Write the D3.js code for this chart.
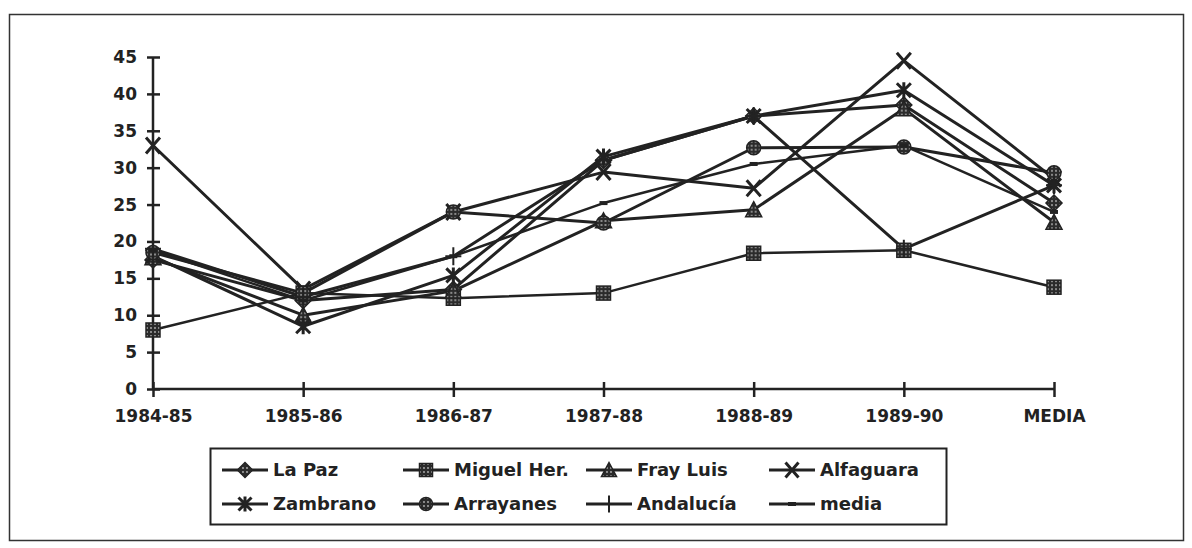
<!DOCTYPE html>
<html>
<head>
<meta charset="utf-8">
<script src="https://cdn.jsdelivr.net/npm/d3@7"></script>
<style>
  body { margin: 0; background: #fff; }
  text { font-family: 'DejaVu Sans', Arial, sans-serif; font-weight: bold; fill: #222; }
</style>
</head>
<body>
<div id="chart"></div>
<script>
// Data
const categories = ["1984-85", "1985-86", "1986-87", "1987-88", "1988-89", "1989-90", "MEDIA"]
const yTicks = [0, 5, 10, 15, 20, 25, 30, 35, 40, 45]

const laPaz      = [17.5, 12.0, 13.5, 31.0, 37.0, 38.5, 25.2]
const miguelHer  = [8.0, 13.0, 12.3, 13.0, 18.4, 18.8, 13.8]
const frayLuis   = [17.8, 10.0, 13.3, 22.8, 24.3, 38.0, 22.6]
const alfaguara  = [33.0, 13.5, 24.0, 29.4, 27.2, 44.5, 28.5]
const zambrano   = [18.0, 8.5, 15.4, 31.5, 37.0, 40.5, 27.6]
const arrayanes  = [18.5, 13.0, 24.0, 22.5, 32.7, 32.8, 29.3]
const andalucia  = [19.0, 12.5, 18.0, 31.0, 37.0, 19.0, 27.6]
const media      = [18.8, 12.0, 18.0, 25.2, 30.5, 33.0, 24.0]

const seriesNames = ["La Paz", "Miguel Her.", "Fray Luis", "Alfaguara", "Zambrano", "Arrayanes", "Andalucía", "media"]
const seriesValues = [laPaz, miguelHer, frayLuis, alfaguara, zambrano, arrayanes, andalucia, media]
const seriesMarkers = ["diamond", "square", "triangle", "x", "asterisk", "circle", "plus", "dash"]

// Constants
const width = 1192
const height = 548
const ink = '#222'
const fontFamily = "'DejaVu Sans', Arial, sans-serif"

const svg = d3.select("#chart")
    .append("svg")
    .attr("width", width)
    .attr("height", height)

// halftone fill used by the solid markers
const defs = svg.append("defs")
const pat = defs.append("pattern")
    .attr("id", "dots")
    .attr("width", 4)
    .attr("height", 4)
    .attr("patternUnits", "userSpaceOnUse")
pat.append("rect").attr("width", 4).attr("height", 4).attr("fill", "#2b2b2b")
pat.append("circle").attr("cx", 2).attr("cy", 2).attr("r", 0.9).attr("fill", "#b5b5b5")

// Outer frame
svg.append("rect")
    .attr("x", 9.5)
    .attr("y", 14.5)
    .attr("width", 1174)
    .attr("height", 526)
    .attr("fill", "none")
    .attr("stroke", "#333")
    .attr("stroke-width", 1.5)

// Scales
const x = d3.scalePoint()
    .domain(categories)
    .range([153, 1054])

const y = d3.scaleLinear()
    .domain([0, 45])
    .range([389, 57])

// Axes
const yAxisGroup = svg.append("g")
    .attr("transform", `translate(${x(categories[0])}, 0)`)
    .call(d3.axisLeft(y).tickValues(yTicks).tickSize(6).tickPadding(10))
yAxisGroup.selectAll("line").attr("x2", 7).attr("x1", -6)

const xAxisGroup = svg.append("g")
    .attr("transform", `translate(0, ${y(0)})`)
    .call(d3.axisBottom(x).tickSize(8).tickPadding(13))
xAxisGroup.selectAll("line").attr("y1", -7)

svg.selectAll(".domain").attr("stroke", ink).attr("stroke-width", 2.5)
svg.selectAll(".tick line").attr("stroke", ink).attr("stroke-width", 2.5)
svg.selectAll(".tick text")
    .style("font-family", fontFamily)
    .style("font-weight", "bold")
    .style("font-size", "17px")
    .attr("fill", ink)
xAxisGroup.selectAll(".domain").attr("d", `M${x(categories[0])},0H${x(categories[categories.length - 1])}`)
yAxisGroup.selectAll(".domain").attr("d", `M0,${y(0)}V${y(45)}`)

// Marker drawing
function drawMarker(g, type, s) {
    const h = s / 2
    if (type === "diamond") {
        g.append("path").attr("d", `M0,${-h - 1}L${h + 1},0L0,${h + 1}L${-h - 1},0Z`)
            .attr("fill", "url(#dots)").attr("stroke", ink).attr("stroke-width", 1.5)
    } else if (type === "square") {
        g.append("rect").attr("x", -h).attr("y", -h).attr("width", s).attr("height", s)
            .attr("fill", "url(#dots)").attr("stroke", ink).attr("stroke-width", 1.5)
    } else if (type === "triangle") {
        g.append("path").attr("d", `M0,${-h - 1}L${h + 1},${h}L${-h - 1},${h}Z`)
            .attr("fill", "url(#dots)").attr("stroke", ink).attr("stroke-width", 1.5)
    } else if (type === "circle") {
        g.append("circle").attr("r", h)
            .attr("fill", "url(#dots)").attr("stroke", ink).attr("stroke-width", 1.5)
    } else if (type === "x") {
        g.append("path").attr("d", `M${-h},${-h - 1}L${h},${h + 1}M${h},${-h - 1}L${-h},${h + 1}`)
            .attr("stroke", ink).attr("stroke-width", 3).attr("fill", "none")
    } else if (type === "asterisk") {
        g.append("path").attr("d", `M${-h},${-h}L${h},${h}M${h},${-h}L${-h},${h}M0,${-h - 1}V${h + 1}`)
            .attr("stroke", ink).attr("stroke-width", 3).attr("fill", "none")
    } else if (type === "plus") {
        g.append("path").attr("d", `M${-h - 1},0H${h + 1}M0,${-h - 2}V${h + 2}`)
            .attr("stroke", ink).attr("stroke-width", 2).attr("fill", "none")
    } else if (type === "dash") {
        g.append("rect").attr("x", -4).attr("y", -2).attr("width", 8).attr("height", 4)
            .attr("fill", ink)
    }
}

// Lines
const line = d3.line()
    .x((d, i) => x(categories[i]))
    .y(d => y(d))

const plot = svg.append("g")

seriesValues.forEach((vals, k) => {
    plot.append("path")
        .datum(vals)
        .attr("d", line)
        .attr("fill", "none")
        .attr("stroke", ink)
        .attr("stroke-width", (k === 1 || k === 7) ? 2.5 : 3)
        .attr("stroke-linejoin", "round")
})

seriesValues.forEach((vals, k) => {
    vals.forEach((v, i) => {
        const g = plot.append("g")
            .attr("transform", `translate(${x(categories[i])}, ${y(v)})`)
        drawMarker(g, seriesMarkers[k], 14)
    })
})

// Legend
const legend = svg.append("g")
legend.append("rect")
    .attr("x", 210.5)
    .attr("y", 448.5)
    .attr("width", 736)
    .attr("height", 76)
    .attr("fill", "none")
    .attr("stroke", ink)
    .attr("stroke-width", 2)

const legendCols = [222, 403, 586, 769]
const legendRows = [470, 504]

seriesNames.forEach((name, k) => {
    const lx = legendCols[k % 4]
    const ly = legendRows[Math.floor(k / 4)]
    const item = legend.append("g").attr("transform", `translate(${lx}, ${ly})`)
    item.append("line")
        .attr("x1", 0).attr("x2", 46)
        .attr("stroke", ink).attr("stroke-width", 3)
    const m = item.append("g").attr("transform", "translate(23, 0)")
    drawMarker(m, seriesMarkers[k], 13)
    item.append("text")
        .attr("x", 51)
        .attr("dy", "0.36em")
        .style("font-family", fontFamily)
        .style("font-size", "18px")
        .text(name)
})
</script>
</body>
</html>
